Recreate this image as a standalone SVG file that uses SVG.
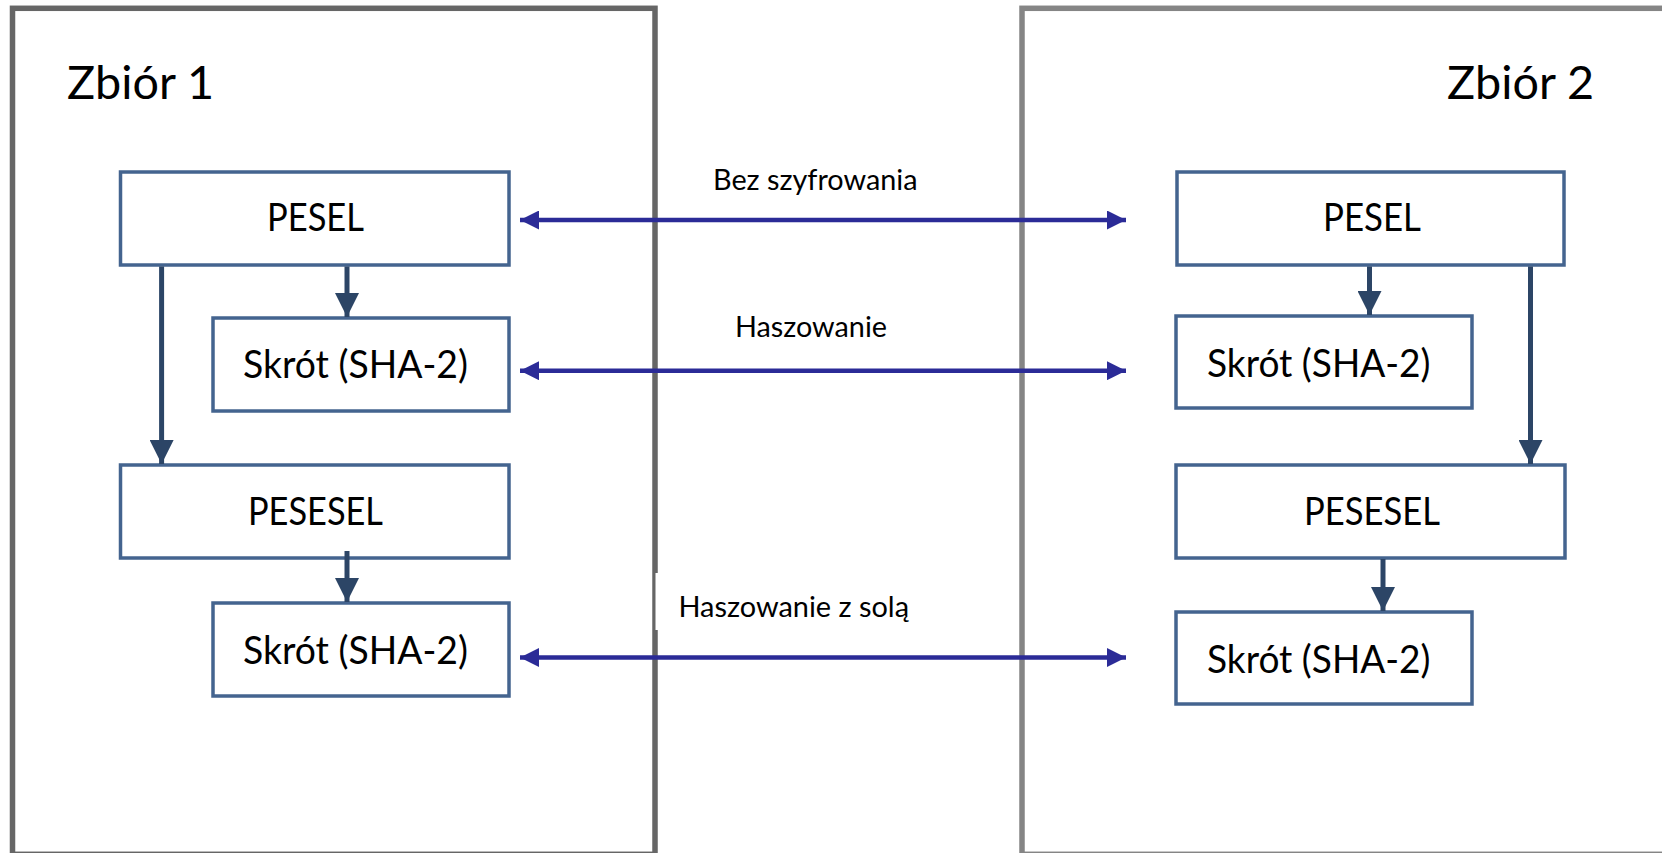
<svg xmlns="http://www.w3.org/2000/svg" width="1662" height="853" viewBox="0 0 1662 853">
  <defs>
    <marker id="dn" markerUnits="userSpaceOnUse" markerWidth="24" markerHeight="24" viewBox="0 0 24 24" refX="24" refY="12" orient="auto">
      <path d="M0,0 L24,12 L0,24 Z" fill="#2c4566"/>
    </marker>
    <marker id="hz" markerUnits="userSpaceOnUse" markerWidth="19" markerHeight="19" viewBox="0 0 19 19" refX="19" refY="9.5" orient="auto-start-reverse">
      <path d="M0,0 L19,9.5 L0,19 Z" fill="#2b2b97"/>
    </marker>
    <style>
      .cont { fill: none; stroke-width: 5.5; }
      .box { fill: #ffffff; stroke: #44648f; stroke-width: 3.5; }
      .t { font-family: Lato, "Open Sans", sans-serif; fill: #000000; }
      .title { font-size: 47px; }
      .bt { font-size: 39px; }
      .lbl { font-size: 29.5px; }
      .vc { stroke: #2c4566; stroke-width: 5; fill: none; marker-end: url(#dn); }
      .hc { stroke: #2b2b97; stroke-width: 4.5; fill: none; marker-start: url(#hz); marker-end: url(#hz); }
    </style>
  </defs>

  <rect width="1662" height="853" fill="#ffffff"/>

  <g id="zbior1">
    <rect class="cont" x="12.5" y="8.3" width="642.5" height="846" stroke="#666666"/>
    <text class="t title" x="67" y="99" textLength="147" lengthAdjust="spacingAndGlyphs">Zbiór 1</text>
  </g>
  <g id="zbior2">
    <rect class="cont" x="1022" y="8.3" width="700" height="846" stroke="#858585"/>
    <text class="t title" x="1447" y="99" textLength="147" lengthAdjust="spacingAndGlyphs">Zbiór 2</text>
  </g>

  <g id="labels">
    <text class="t lbl" x="713" y="190" textLength="204.5" lengthAdjust="spacingAndGlyphs">Bez szyfrowania</text>
    <text class="t lbl" x="735" y="337" textLength="152" lengthAdjust="spacingAndGlyphs">Haszowanie</text>
    <rect x="655.5" y="573" width="262" height="57" fill="#ffffff"/>
    <text class="t lbl" x="678.5" y="617" textLength="230.5" lengthAdjust="spacingAndGlyphs">Haszowanie z solą</text>
  </g>

  <g id="l-pesel">
    <rect class="box" x="120.5" y="172" width="388.5" height="93"/>
    <text class="t bt" x="267" y="231" textLength="97" lengthAdjust="spacingAndGlyphs">PESEL</text>
  </g>
  <g id="l-skrot1">
    <rect class="box" x="213" y="318" width="296" height="93"/>
    <text class="t bt" x="243" y="378" textLength="225" lengthAdjust="spacingAndGlyphs">Skrót (SHA-2)</text>
  </g>
  <g id="l-pesesel">
    <rect class="box" x="120.5" y="465" width="388.5" height="93"/>
    <text class="t bt" x="248" y="525" textLength="135" lengthAdjust="spacingAndGlyphs">PESESEL</text>
  </g>
  <g id="l-skrot2">
    <rect class="box" x="213" y="603" width="296" height="93"/>
    <text class="t bt" x="243" y="664" textLength="225" lengthAdjust="spacingAndGlyphs">Skrót (SHA-2)</text>
  </g>

  <g id="r-pesel">
    <rect class="box" x="1177" y="172" width="387" height="93"/>
    <text class="t bt" x="1323" y="231" textLength="98" lengthAdjust="spacingAndGlyphs">PESEL</text>
  </g>
  <g id="r-skrot1">
    <rect class="box" x="1176" y="316" width="296" height="92"/>
    <text class="t bt" x="1207" y="377" textLength="223.5" lengthAdjust="spacingAndGlyphs">Skrót (SHA-2)</text>
  </g>
  <g id="r-pesesel">
    <rect class="box" x="1176" y="465" width="389" height="93"/>
    <text class="t bt" x="1304" y="525" textLength="136" lengthAdjust="spacingAndGlyphs">PESESEL</text>
  </g>
  <g id="r-skrot2">
    <rect class="box" x="1176" y="612" width="296" height="92"/>
    <text class="t bt" x="1207" y="673" textLength="223.5" lengthAdjust="spacingAndGlyphs">Skrót (SHA-2)</text>
  </g>

  <g id="connectors">
    <line class="vc" x1="161.6" y1="266.5" x2="161.6" y2="464"/>
    <line class="vc" x1="347" y1="266.5" x2="347" y2="317"/>
    <line class="vc" x1="347" y1="551" x2="347" y2="602"/>
    <line class="vc" x1="1369.5" y1="266.5" x2="1369.5" y2="315"/>
    <line class="vc" x1="1530.5" y1="266.5" x2="1530.5" y2="464"/>
    <line class="vc" x1="1383" y1="559" x2="1383" y2="611"/>
    <line class="hc" x1="520" y1="220" x2="1126" y2="220"/>
    <line class="hc" x1="520" y1="370.7" x2="1126" y2="370.7"/>
    <line class="hc" x1="520" y1="657.5" x2="1126" y2="657.5"/>
  </g>
</svg>
